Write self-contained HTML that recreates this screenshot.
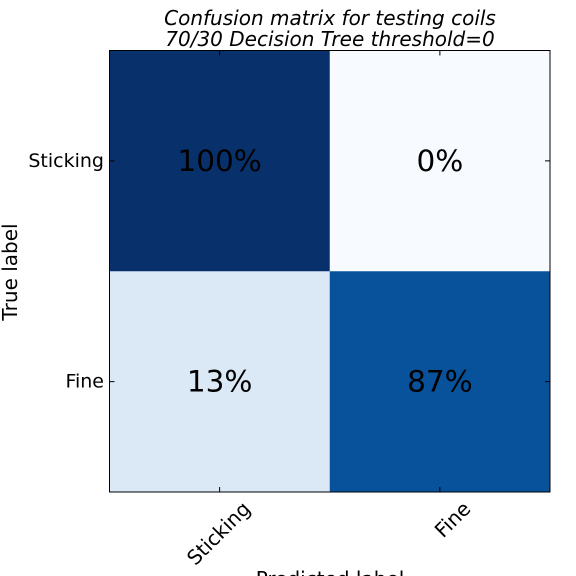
<!DOCTYPE html>
<html><head><meta charset="utf-8"><style>body{margin:0;background:#fff}svg{display:block}</style></head>
<body>
<svg id="chart" width="576" height="576" viewBox="0 0 576 576" font-family="'DejaVu Sans','Liberation Sans',sans-serif">
<text x="330" y="25" font-size="20" font-style="italic" text-anchor="middle">Confusion matrix for testing coils</text>
<text x="330" y="46" font-size="20" font-style="italic" text-anchor="middle">70/30 Decision Tree threshold=0</text>
<g id="cells"></g>
<rect x="109.5" y="50.5" width="440.5" height="441.5" fill="none" stroke="#000" stroke-width="1"/>
<g id="ticks"></g>
<text transform="translate(17,272) rotate(-90)" font-size="20" text-anchor="middle">True label</text>
<text x="330" y="586" font-size="20" text-anchor="middle">Predicted label</text>
</svg>
<script>
const labels = ["Sticking", "Fine"];
const values = [[100, 0], [13, 87]];
const colors = [["#08306b", "#f7fbff"], ["#dbe9f6", "#08529c"]];
const NS = "http://www.w3.org/2000/svg";
const x0 = 109.5, y0 = 50.5, cw = 220.25, ch = 220.75;
const xc = i => x0 + cw * (i + 0.5), yc = i => y0 + ch * (i + 0.5);
const cells = document.getElementById("cells"), ticks = document.getElementById("ticks");
function mk(tag, attrs, parent) { const e = document.createElementNS(NS, tag); for (const k in attrs) e.setAttribute(k, attrs[k]); parent.appendChild(e); return e; }
values.forEach((row, r) => row.forEach((v, c) => {
  const rect = mk("rect", {x: x0 + c * cw, y: y0 + r * ch, width: cw + 0.5, height: ch + 0.5, fill: colors[r][c]}, cells);
  
  
  const t = mk("text", {x: xc(c), y: yc(r) + 10, "font-size": "29.5", "text-anchor": "middle", fill: "#000"}, cells);
  t.textContent = v + "%";
  
  
}));
labels.forEach((l, i) => {
  mk("line", {x1: xc(i), x2: xc(i), y1: 492, y2: 487, stroke: "#000"}, ticks);
  mk("line", {x1: xc(i), x2: xc(i), y1: 50.5, y2: 55.5, stroke: "#000"}, ticks);
  mk("line", {x1: 109.5, x2: 114.5, y1: yc(i), y2: yc(i), stroke: "#000"}, ticks);
  mk("line", {x1: 550, x2: 545, y1: yc(i), y2: yc(i), stroke: "#000"}, ticks);
  const yl = mk("text", {x: 104, y: yc(i) + 6, "font-size": "19", "text-anchor": "end"}, ticks);
  yl.textContent = l;
  
  
  const xl = mk("text", {transform: `translate(${xc(i) + 32},${510}) rotate(-45)`, "font-size": "20", "text-anchor": "end"}, ticks);
  xl.textContent = l;
  
  
});
</script>
</body></html>
